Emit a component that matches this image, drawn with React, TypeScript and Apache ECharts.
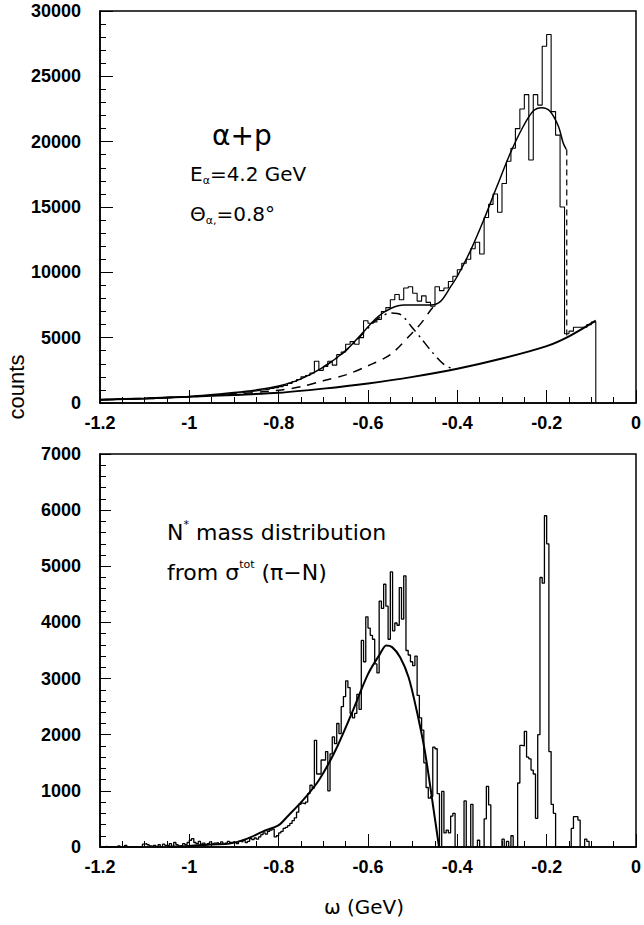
import React, { useEffect, useRef } from "react";
import * as echarts from "echarts";

// ---------- DATA ----------
// Top panel: alpha + p histogram (bin width 0.01 GeV, starting at -1.2)
const TOP_BIN_START = -1.2;
const TOP_BIN_WIDTH = 0.01;
const topCounts = [
  250, 270, 260, 290, 280, 300, 290, 310, 320, 330,
  340, 330, 360, 370, 390, 400, 420, 430, 450, 480,
  500, 520, 540, 570, 590, 620, 640, 680, 700, 740,
  780, 800, 850, 880, 930, 980, 1020, 1060, 1120, 1180,
  1250, 1350, 1500, 1650, 1800, 2000, 2100, 2300, 3200, 2500,
  2800, 3200, 2900, 3700, 3900, 4500, 4700, 4500, 5000, 6300,
  6100, 6200, 6400, 7000, 7300, 7900, 8300, 7900, 8800, 8900,
  8400, 7800, 8200, 7700, 7400, 8900, 8600, 8800, 9300, 9700,
  10200, 10700, 11000, 11800, 12300, 11400, 14200, 15200, 16000, 14600,
  16800, 18500, 19500, 21000, 22500, 23600, 18600, 23600, 22800, 27300,
  28200, 22300, 20500, 15000, 5300, 5500, 5800, 5800, 5800, 6000,
  6200,
];

// Top panel: total fit (solid)
const topFitX = [-1.2, -1.1, -1.0, -0.9, -0.85, -0.8, -0.75, -0.7, -0.65, -0.622, -0.578, -0.548, -0.519, -0.489, -0.459, -0.437, -0.415, -0.4, -0.37, -0.341, -0.311, -0.281, -0.252, -0.23, -0.211, -0.193, -0.174, -0.163, -0.156];
const topFitY = [250, 350, 500, 800, 1000, 1300, 1850, 2750, 4000, 5000, 6600, 7250, 7500, 7500, 7500, 7800, 8900, 9700, 11700, 14000, 16600, 19150, 21200, 22350, 22600, 22350, 21200, 19900, 19400];
// vertical cut-off of the total fit
const topFitDropX = [-0.155, -0.155];
const topFitDropY = [19400, 5050];

// Top panel: dashed component
const topDashX = [-1.2, -1.0, -0.9, -0.8, -0.75, -0.7, -0.65, -0.6, -0.55, -0.5, -0.48, -0.46, -0.445];
const topDashY = [250, 480, 680, 980, 1250, 1700, 2150, 2850, 3700, 5400, 6150, 7100, 7700];

// Top panel: dash-dot component
const topDotX = [-0.7, -0.66, -0.62, -0.578, -0.548, -0.526, -0.504, -0.481, -0.459, -0.43, -0.407];
const topDotY = [2750, 3700, 5000, 6450, 6880, 6750, 5900, 4950, 4000, 2950, 2580];

// Top panel: background (solid, lower)
const topBgX = [-1.2, -1.1, -1.0, -0.9, -0.8, -0.7, -0.6, -0.5, -0.4, -0.3, -0.2, -0.15, -0.09];
const topBgY = [250, 350, 480, 620, 780, 1100, 1500, 2000, 2620, 3400, 4350, 5100, 6300];

// Bottom panel: N* mass distribution histogram (bin width 0.005 GeV, starting at -1.2)
const BOT_BIN_START = -1.2;
const BOT_BIN_WIDTH = 0.005;
const bottomCounts = [
  0, 0, 10, 0, 0, 0, 0, 0, 20, 0, 0, 30, 0, 0, 0, 0, 0, 0, 0, 50,
  60, 40, 20, 10, 30, 0, 40, 0, 50, 30, 20, 60, 10, 80, 40, 20, 30, 60, 40, 80,
  120, 150, 80, 60, 100, 50, 70, 40, 60, 90, 50, 70, 80, 60, 90, 50, 70, 100, 80, 90,
  80, 60, 100, 90, 120, 80, 100, 150, 130, 160, 140, 180, 220, 250, 230, 280, 300, 320, 180, 200,
  250, 280, 330, 350, 380, 420, 470, 520, 620, 760, 780, 770, 800, 950, 1100, 1050, 1900, 1300, 1300, 1550,
  1550, 1700, 1000, 1660, 1960, 1840, 2200, 2020, 2500, 2680, 2960, 2840, 2380, 2300, 2380, 2720, 2450, 3680, 3300, 4100,
  3900, 3770, 3700, 3260, 3100, 4380, 4250, 4680, 4290, 3700, 4900, 3850, 3990, 3950, 4620, 4060, 4830, 3500, 3420, 3300,
  3230, 3400, 2700, 2300, 2080, 1500, 1060, 870, 900, 1780, 1750, 950, 0, 990, 250, 300, 250, 550, 600, 0,
  0, 0, 0, 820, 0, 0, 760, 0, 0, 120, 0, 0, 500, 1080, 750, 0, 0, 0, 0, 0,
  140, 0, 100, 0, 200, 0, 0, 1140, 1810, 1800, 2060, 1600, 1570, 1370, 1300, 510, 2000, 4800, 4700, 5900,
  5400, 1700, 760, 600, 0, 0, 0, 0, 0, 0, 0, 330, 540, 540, 480, 0, 0, 140, 100, 0,
];

// Bottom panel: fit (solid)
const bottomFitX = [-1.05, -1.0, -0.95, -0.91, -0.87, -0.837, -0.8, -0.782, -0.746, -0.71, -0.673, -0.637, -0.6, -0.573, -0.559, -0.546, -0.528, -0.509, -0.491, -0.473, -0.455, -0.441];
const bottomFitY = [5, 20, 45, 60, 150, 270, 390, 530, 830, 1190, 1720, 2370, 3080, 3440, 3590, 3560, 3380, 3020, 2430, 1720, 770, 0];

// Axis ranges / ticks
const X_MIN = -1.2;
const X_MAX = 0;
const X_INTERVAL = 0.2;
const TOP_Y_MAX = 30000;
const TOP_Y_INTERVAL = 5000;
const BOT_Y_MAX = 7000;
const BOT_Y_INTERVAL = 1000;

// ---------- helpers ----------
function histPoints(start: number, width: number, counts: number[]) {
  const pts: number[][] = [];
  counts.forEach((c, i) => {
    const x0 = Number((start + i * width).toFixed(4));
    const x1 = Number((start + (i + 1) * width).toFixed(4));
    pts.push([x0, c], [x1, c]);
  });
  const xEnd = Number((start + counts.length * width).toFixed(4));
  pts.push([xEnd, 0]);
  return pts;
}
function zip(xs: number[], ys: number[]) {
  return xs.map((x, i) => [x, ys[i]]);
}

const TICK_FONT = "Liberation Sans, Arial, sans-serif";
const ANN_FONT = "DejaVu Sans, sans-serif";

function xAxisCfg(gridIndex: number) {
  return {
    type: "value",
    gridIndex,
    min: X_MIN,
    max: X_MAX,
    interval: X_INTERVAL,
    axisLine: { show: true, onZero: false, lineStyle: { color: "#000", width: 1.5 } },
    axisTick: { show: true, inside: true, length: 13, lineStyle: { color: "#000", width: 1 } },
    minorTick: { show: true, splitNumber: 4, length: 6, lineStyle: { color: "#000", width: 1 } },
    splitLine: { show: false },
    axisLabel: {
      color: "#000",
      fontFamily: TICK_FONT,
      fontWeight: "bold",
      fontSize: 18,
      margin: 11,
      formatter: (v: number) => String(Number(v.toFixed(2))),
    },
  };
}
function yAxisCfg(gridIndex: number, max: number, interval: number, majorLen: number) {
  return {
    type: "value",
    gridIndex,
    min: 0,
    max,
    interval,
    axisLine: { show: true, onZero: false, lineStyle: { color: "#000", width: 1.5 } },
    axisTick: { show: true, inside: true, length: majorLen, lineStyle: { color: "#000", width: 1 } },
    minorTick: { show: true, splitNumber: 5, length: 6, lineStyle: { color: "#000", width: 1 } },
    splitLine: { show: false },
    axisLabel: {
      color: "#000",
      fontFamily: TICK_FONT,
      fontWeight: "bold",
      fontSize: 18,
      margin: 19,
      formatter: (v: number) => String(v),
    },
  };
}

function lineSeries(xi: number, data: number[][], lineStyle: any, smooth: number | boolean, z = 2) {
  return {
    type: "line",
    xAxisIndex: xi,
    yAxisIndex: xi,
    data,
    showSymbol: false,
    symbol: "none",
    smooth,
    clip: true,
    silent: true,
    z,
    lineStyle: { color: "#000", ...lineStyle },
  };
}

const txt = (x: number, y: number, text: string, rich: any, extra: any = {}) => ({
  type: "text",
  x,
  y,
  silent: true,
  ...extra,
  style: {
    text,
    rich,
    fill: "#000",
    align: "left",
    verticalAlign: "middle",
    fontFamily: ANN_FONT,
  },
});

export default function App() {
  const ref = useRef<HTMLDivElement>(null);
  useEffect(() => {
    if (!ref.current) return;
    const chart = echarts.init(ref.current, null, { renderer: "svg" });
    const m = (fs: number) => ({ fontSize: fs, fontFamily: ANN_FONT, fill: "#000", color: "#000", lineHeight: fs + 4 });
    const sub = { fontSize: 11, fontFamily: ANN_FONT, fill: "#000", color: "#000", lineHeight: 11, verticalAlign: "bottom" };
    const sup = { fontSize: 11, fontFamily: ANN_FONT, fill: "#000", color: "#000", lineHeight: 11, verticalAlign: "top" };

    const option: any = {
      animation: false,
      backgroundColor: "#fff",
      grid: [
        { left: 100, top: 11, width: 541, height: 392, show: true, borderColor: "#000", borderWidth: 1.5, containLabel: false },
        { left: 100, top: 454, width: 541, height: 393, show: true, borderColor: "#000", borderWidth: 1.5, containLabel: false },
      ],
      xAxis: [xAxisCfg(0), xAxisCfg(1)],
      yAxis: [
        yAxisCfg(0, TOP_Y_MAX, TOP_Y_INTERVAL, 13),
        yAxisCfg(1, BOT_Y_MAX, BOT_Y_INTERVAL, 11),
      ],
      series: [
        lineSeries(0, histPoints(TOP_BIN_START, TOP_BIN_WIDTH, topCounts), { width: 1.1 }, false, 3),
        lineSeries(0, zip(topBgX, topBgY), { width: 2 }, 0.3, 4),
        lineSeries(0, zip(topFitX, topFitY), { width: 1.5 }, 0.3, 4),
        lineSeries(0, zip(topFitDropX, topFitDropY), { width: 1.2, type: [6, 4] }, false, 4),
        lineSeries(0, zip(topDashX, topDashY), { width: 1.5, type: [9, 7] }, 0.3, 4),
        lineSeries(0, zip(topDotX, topDotY), { width: 1.5, type: [10, 5, 2, 5] }, 0.3, 4),
        lineSeries(1, histPoints(BOT_BIN_START, BOT_BIN_WIDTH, bottomCounts), { width: 1.3 }, false, 3),
        lineSeries(1, zip(bottomFitX, bottomFitY), { width: 2 }, 0.3, 4),
      ],
      graphic: [
        txt(212, 135, "{a|α+p}", { a: m(28) }),
        txt(190, 174, "{m|E}{s|α}{m|=4.2 GeV}", { m: m(20), s: sub }),
        txt(190, 214, "{m|Θ}{s|α,}{m|=0.8°}", { m: m(20), s: sub }),
        txt(167, 532, "{m|N}{p|*}{m| mass distribution}", { m: m(22), p: sup }),
        txt(167, 572, "{m|from σ}{p|tot}{m| (π−N)}", { m: m(22), p: sup }),
        {
          type: "text",
          x: 16,
          y: 387,
          rotation: Math.PI / 2,
          silent: true,
          style: { text: "counts", fill: "#000", fontFamily: TICK_FONT, fontSize: 22, align: "center", verticalAlign: "middle" },
        },
        {
          type: "text",
          x: 364,
          y: 907,
          silent: true,
          style: { text: "ω (GeV)", fill: "#000", fontFamily: ANN_FONT, fontSize: 20, align: "center", verticalAlign: "middle" },
        },
      ],
    };
    chart.setOption(option);
    return () => chart.dispose();
  }, []);
  return (
    <div
      ref={ref}
      style={{ position: "fixed", left: 0, top: 0, width: 644, height: 925, background: "#fff" }}
    />
  );
}
